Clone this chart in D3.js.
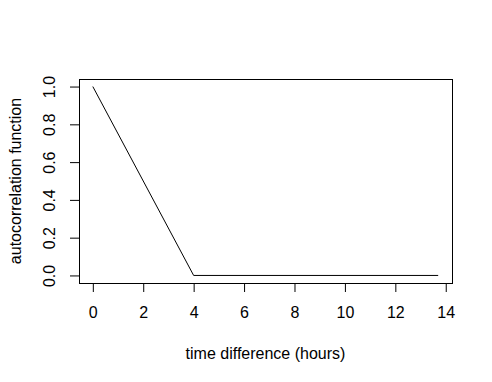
<!DOCTYPE html>
<html><head><meta charset="utf-8">
<script src="https://cdn.jsdelivr.net/npm/d3@7"></script>
<style>body{margin:0;background:#fff}svg{display:block}text{font-family:"Liberation Sans",Arial,sans-serif;fill:#000}</style>
</head><body>
<script>
const lagHours = [0, 4, 13.7];
const acfValues = [1, 0, 0];
const xTicks = [0, 2, 4, 6, 8, 10, 12, 14];
const yTicks = [0, 0.2, 0.4, 0.6, 0.8, 1.0];
const xTitle = "time difference (hours)";
const yTitle = "autocorrelation function";

const W = 492, H = 382;
const L = 79, R = 452, T = 79, B = 283;
const fs = 16;

const svg = d3.select("body").append("svg").attr("width", W).attr("height", H);
const xmin = d3.min(lagHours), xmax = d3.max(lagHours);
const xpad = (xmax - xmin) * 0.04;
const x = d3.scaleLinear().domain([xmin - xpad, xmax + xpad]).range([L, R]);
const ypad = 0.04;
const y = d3.scaleLinear().domain([0 - ypad, 1 + ypad]).range([B, T]);

// box
svg.append("rect").attr("x", L).attr("y", T).attr("width", R - L).attr("height", B - T)
  .attr("fill", "none").attr("stroke", "#000").attr("stroke-width", 1).attr("shape-rendering", "crispEdges");

// x axis
const xa = svg.append("g").attr("transform", `translate(0,${B})`)
  .call(d3.axisBottom(x).tickValues(xTicks).tickSize(9).tickFormat(d3.format("d")));
xa.select(".domain").attr("d", `M${x(xTicks[0])},0.5H${x(xTicks[xTicks.length-1])}`).attr("stroke", "#000");
xa.selectAll("text").attr("font-size", fs).attr("font-family", "Liberation Sans, Arial, sans-serif").attr("dy", "0.71em").attr("y", 24);
xa.selectAll("line").attr("stroke", "#000");

// y axis
const ya = svg.append("g").attr("transform", `translate(${L},0)`)
  .call(d3.axisLeft(y).tickValues(yTicks).tickSize(9).tickFormat(d3.format(".1f")));
ya.select(".domain").attr("d", `M0.5,${y(yTicks[0])}V${y(yTicks[yTicks.length-1])}`).attr("stroke", "#000");
ya.selectAll("line").attr("stroke", "#000");
ya.selectAll("text").remove();
ya.selectAll(".tick").append("text")
  .attr("transform", "translate(-24,0) rotate(-90)")
  .attr("text-anchor", "middle").attr("font-size", fs)
  .text(d => d3.format(".1f")(d));

// line
const pts = lagHours.map((h, i) => [h, acfValues[i]]);
svg.append("path").datum(pts)
  .attr("d", d3.line().x(d => x(d[0])).y(d => y(d[1])))
  .attr("fill", "none").attr("stroke", "#000").attr("stroke-width", 1);

// titles
svg.append("text").attr("x", (L + R) / 2).attr("y", 359).attr("text-anchor", "middle")
  .attr("font-size", fs).text(xTitle);
svg.append("text").attr("transform", `translate(21,${(T + B) / 2}) rotate(-90)`)
  .attr("text-anchor", "middle").attr("font-size", fs).text(yTitle);
</script>
</body></html>
